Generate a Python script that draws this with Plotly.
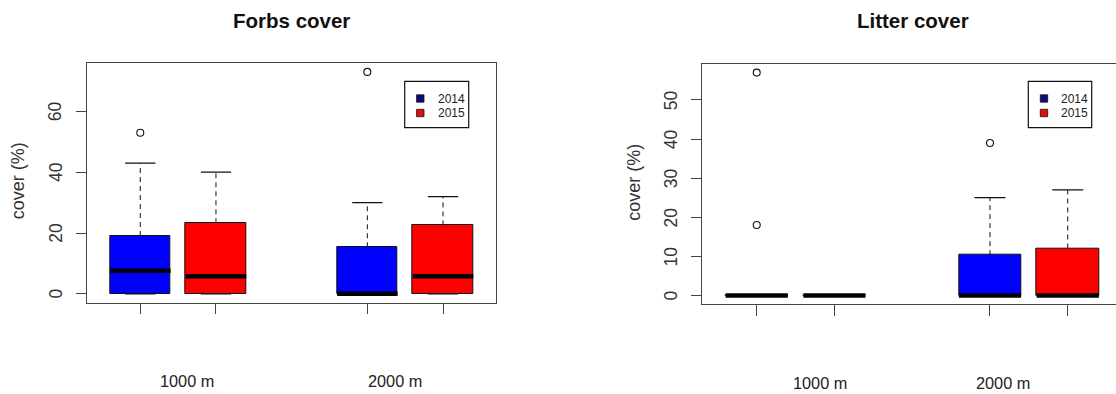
import plotly.graph_objects as go

# ---------------- data ----------------
positions = [1, 2, 4, 5]
years = ["2014", "2015", "2014", "2015"]
box_colors = ["#0000FF", "#FF0000", "#0000FF", "#FF0000"]
group_labels = ["1000 m", "2000 m"]
forbs_label_pos = [1.615, 4.36]
litter_label_pos = [1.815, 4.17]

forbs_q1 = [0, 0, 0, 0]
forbs_median = [7.6, 5.8, 0, 5.8]
forbs_q3 = [19, 23.2, 15.3, 22.5]
forbs_lower = [0, 0, 0, 0]
forbs_upper = [43, 40, 30, 32]
forbs_outliers = [[53], [], [73], []]
forbs_yticks = [0, 20, 40, 60]

litter_q1 = [0, 0, 0, 0]
litter_median = [0, 0, 0, 0]
litter_q3 = [0, 0, 10.3, 12]
litter_lower = [0, 0, 0, 0]
litter_upper = [0, 0, 25, 27]
litter_outliers = [[57, 18], [], [39], []]
litter_yticks = [0, 10, 20, 30, 40, 50]

legend_years = ["2014", "2015"]
legend_colors = ["#0a0a80", "#e01010"]

# ---------------- helpers ----------------
W, H = 1116, 394
FONT = "Liberation Sans"
AXC = "#444444"


def px(x):
    return x / W


def py(y):
    return 1 - y / H


def r_range(lo, hi):
    d = (hi - lo) * 0.04
    return [lo - d, hi + d]


fig = go.Figure()


def add_panel(xa, ya, q1, med, q3, lo, hi, outl):
    xr, yr = xa, ya
    # boxes
    for i, p in enumerate(positions):
        fig.add_trace(go.Bar(
            x=[p], y=[q3[i] - q1[i]], base=[q1[i]], width=0.8,
            marker=dict(color=box_colors[i], line=dict(color="#111111", width=1)),
            xaxis=xr, yaxis=yr, showlegend=False, hoverinfo="skip"))
    # whiskers (dashed)
    wx, wy = [], []
    for i, p in enumerate(positions):
        wx += [p, p, None, p, p, None]
        wy += [q3[i], hi[i], None, q1[i], lo[i], None]
    fig.add_trace(go.Scatter(x=wx, y=wy, mode="lines",
                             line=dict(color="#111111", width=1, dash="5px,4px"),
                             xaxis=xr, yaxis=yr, showlegend=False, hoverinfo="skip"))
    # caps
    cx, cy = [], []
    for i, p in enumerate(positions):
        cx += [p - 0.2, p + 0.2, None, p - 0.2, p + 0.2, None]
        cy += [hi[i], hi[i], None, lo[i], lo[i], None]
    fig.add_trace(go.Scatter(x=cx, y=cy, mode="lines",
                             line=dict(color="#111111", width=1.2),
                             xaxis=xr, yaxis=yr, showlegend=False, hoverinfo="skip"))
    # medians
    mx, my = [], []
    for i, p in enumerate(positions):
        mx += [p - 0.4, p + 0.4, None]
        my += [med[i], med[i], None]
    fig.add_trace(go.Scatter(x=mx, y=my, mode="lines",
                             line=dict(color="#000000", width=4.5),
                             xaxis=xr, yaxis=yr, showlegend=False, hoverinfo="skip"))
    # outliers
    ox, oy = [], []
    for i, p in enumerate(positions):
        for v in outl[i]:
            ox.append(p)
            oy.append(v)
    fig.add_trace(go.Scatter(x=ox, y=oy, mode="markers",
                             marker=dict(symbol="circle-open", size=7,
                                         color="#111111", line=dict(width=1.1)),
                             xaxis=xr, yaxis=yr, showlegend=False, hoverinfo="skip"))


add_panel("x", "y", forbs_q1, forbs_median, forbs_q3, forbs_lower, forbs_upper, forbs_outliers)
add_panel("x2", "y2", litter_q1, litter_median, litter_q3, litter_lower, litter_upper, litter_outliers)

forbs_max = max(max(forbs_upper), max(v for o in forbs_outliers for v in o))
litter_max = max(max(litter_upper), max(v for o in litter_outliers for v in o))
x_rng = r_range(min(positions) - 0.5, max(positions) + 0.5)

# right panel is cut at the window edge
unit_r = (1067.7 - 756.7) / 4.0
x2_end = x_rng[0] + (W - 702.3) / unit_r

common_x = dict(tickmode="array", tickvals=positions, ticks="outside", ticklen=10.5,
                tickcolor=AXC, tickwidth=1.2, showticklabels=False, showgrid=False,
                zeroline=False, showline=True, linecolor=AXC, linewidth=1.3, mirror=True,
                fixedrange=True)
common_y = dict(ticks="outside", ticklen=10, tickcolor=AXC, tickwidth=1.2,
                showticklabels=False, showgrid=False, zeroline=False, showline=True,
                linecolor=AXC, linewidth=1.3, fixedrange=True)

annotations = []
shapes = []

# titles
annotations.append(dict(text="<b>Forbs cover</b>", x=px(291.5), y=py(20), xref="paper", yref="paper",
                        showarrow=False, xanchor="center", yanchor="middle",
                        font=dict(family=FONT, size=20.5, color="#111111")))
annotations.append(dict(text="<b>Litter cover</b>", x=px(912.5), y=py(21), xref="paper", yref="paper",
                        showarrow=False, xanchor="center", yanchor="middle",
                        font=dict(family=FONT, size=20.5, color="#111111")))
# y titles
for xx, yy in [(18.3, 181), (633.3, 182.5)]:
    annotations.append(dict(text="cover (%)", x=px(xx), y=py(yy), xref="paper", yref="paper",
                            showarrow=False, xanchor="center", yanchor="middle", textangle=-90,
                            font=dict(family=FONT, size=18, color="#333333")))
# y tick labels
for v in forbs_yticks:
    annotations.append(dict(text=str(v), x=px(55.8), y=v, xref="paper", yref="y",
                            showarrow=False, xanchor="center", yanchor="middle", textangle=-90,
                            font=dict(family=FONT, size=17.5, color="#333333")))
for v in litter_yticks:
    annotations.append(dict(text=str(v), x=px(671.2), y=v, xref="paper", yref="y2",
                            showarrow=False, xanchor="center", yanchor="middle", textangle=-90,
                            font=dict(family=FONT, size=17.5, color="#333333")))
# group labels
for lab, xp in zip(group_labels, forbs_label_pos):
    annotations.append(dict(text=lab, x=xp, y=py(381), xref="x", yref="paper",
                            showarrow=False, xanchor="center", yanchor="middle",
                            font=dict(family=FONT, size=16.3, color="#222222")))
for lab, xp in zip(group_labels, litter_label_pos):
    annotations.append(dict(text=lab, x=xp, y=py(383.3), xref="x2", yref="paper",
                            showarrow=False, xanchor="center", yanchor="middle",
                            font=dict(family=FONT, size=16.3, color="#222222")))

# legends (manual, R style)
for (bx0, bx1, sw_x, tx) in [(404.7, 468.7, 420.3, 435.7), (1028.3, 1091.7, 1044.0, 1059.0)]:
    shapes.append(dict(type="rect", xref="paper", yref="paper",
                       x0=px(bx0), x1=px(bx1), y0=py(127.7), y1=py(81.3),
                       line=dict(color="#111111", width=1.2), fillcolor="white"))
    for k, (yr_, col) in enumerate(zip(legend_years, legend_colors)):
        yc = [98.5, 113.0][k]
        shapes.append(dict(type="rect", xref="paper", yref="paper",
                           x0=px(sw_x - 3.7), x1=px(sw_x + 3.7), y0=py(yc + 3.7), y1=py(yc - 3.7),
                           line=dict(color="#111111", width=0.8), fillcolor=col))
        annotations.append(dict(text=yr_, x=px(tx), y=py(yc), xref="paper", yref="paper",
                                showarrow=False, xanchor="left", yanchor="middle",
                                font=dict(family=FONT, size=12, color="#222222")))

fig.update_layout(
    width=W, height=H, margin=dict(l=0, r=0, t=0, b=0),
    paper_bgcolor="white", plot_bgcolor="white",
    barmode="overlay", bargap=0, showlegend=False,
    xaxis=dict(domain=[px(87.3), px(496)], range=x_rng, anchor="y", **common_x),
    yaxis=dict(domain=[py(302.7), py(63)], range=r_range(0, forbs_max), anchor="x",
               tickmode="array", tickvals=forbs_yticks, mirror=True, **common_y),
    xaxis2=dict(domain=[px(702.3), 1.0], range=[x_rng[0], x2_end], anchor="y2", **common_x),
    yaxis2=dict(domain=[py(304.3), py(63.7)], range=r_range(0, litter_max), anchor="x2",
                tickmode="array", tickvals=litter_yticks, mirror=False, **common_y),
    annotations=annotations, shapes=shapes,
)

fig.write_html("out.html", config={"displayModeBar": False},
               post_script="document.body.style.margin='0';document.body.style.overflow='hidden';")
